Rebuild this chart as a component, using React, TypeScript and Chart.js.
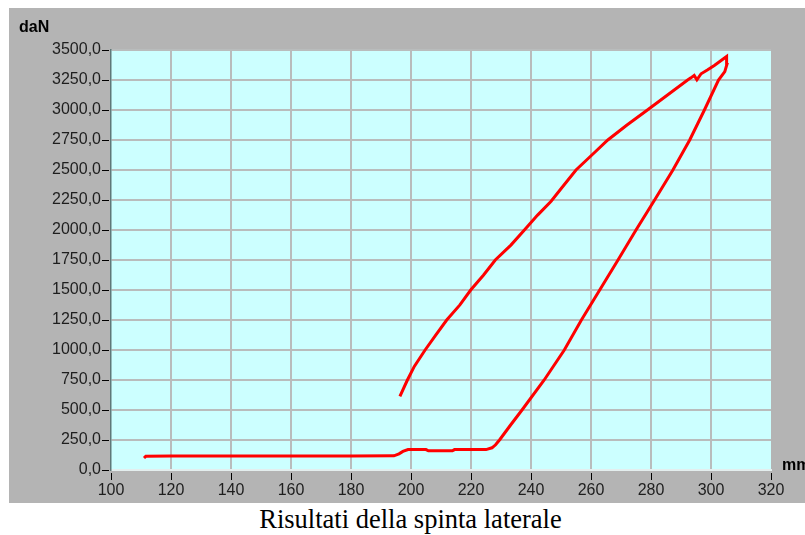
import React, { useEffect, useRef } from "react";
import { Chart, registerables } from "chart.js";

Chart.register(...registerables);

// Displacement (mm) and lateral force (daN) in path order
const displacementMm: number[] = [
  111.0, 111.6, 120, 140, 160, 180, 194.3, 196.0, 197.3, 199.0, 205.0, 205.8, 213.8, 214.5, 225.0, 227.0, 228.2, 229.5,
  233.2, 237.0, 244.4, 251.1, 256.8, 262.9, 269.0, 275.0, 281.2, 287.3, 292.9, 297.8, 302.5, 304.6, 305.3, 305.2,
  301.1, 298.9, 296.7, 295.3, 294.4, 293.3, 292.2, 285.5, 278.8, 272.0, 265.6, 260.3, 255.0, 250.2, 246.7,
  242.2, 237.8, 233.3, 228.1, 224.2, 219.9, 216.3, 211.9, 208.3, 204.7, 201.1, 198.8, 196.3,
];
const forceDaN: number[] = [
  100, 114, 116, 116, 116, 116, 118, 135, 155, 170, 170, 160, 160, 170, 170, 185, 210, 250,
  375, 500, 750, 1000, 1250, 1500, 1750, 2000, 2250, 2500, 2750, 3000, 3250, 3320, 3380, 3446,
  3371, 3335, 3302, 3252, 3288, 3268, 3250, 3125, 3000, 2875, 2750, 2625, 2500, 2350, 2240,
  2124, 2000, 1874, 1750, 1625, 1500, 1376, 1250, 1126, 1000, 863, 750, 614,
];

const xMin = 100;
const xMax = 320;
const xStep = 20;
const yMin = 0;
const yMax = 3500;
const yStep = 250;
const yUnit = "daN";
const xUnit = "mm";
const caption = "Risultati della spinta laterale";

const PANEL = "#b4b4b4";
const PLOT_BG = "#ccffff";
const GRID = "#b9bcbc";
const TEXT = "#1e1e1e";

const fmtY = (v: number) => v.toFixed(1).replace(".", ",");

export default function App() {
  const ref = useRef<HTMLCanvasElement | null>(null);

  useEffect(() => {
    if (!ref.current) return;
    const points = displacementMm.map((x, i) => ({ x, y: forceDaN[i] }));

    const decor = {
      id: "decor",
      beforeDraw(chart: any) {
        const { ctx, chartArea: a } = chart;
        ctx.save();
        ctx.fillStyle = PANEL;
        ctx.fillRect(0, 0, chart.width, chart.height);
        ctx.fillStyle = PLOT_BG;
        ctx.fillRect(a.left, a.top, a.right - a.left, a.bottom - a.top);
        ctx.restore();
      },
      afterDraw(chart: any) {
        const { ctx, chartArea: a, scales } = chart;
        ctx.save();
        ctx.strokeStyle = "#000";
        ctx.lineWidth = 1;
        scales.y.ticks.forEach((t: any) => {
          const py = Math.round(scales.y.getPixelForValue(t.value)) + 0.5;
          ctx.beginPath();
          ctx.moveTo(a.left - 9, py);
          ctx.lineTo(a.left - 2, py);
          ctx.stroke();
        });
        scales.x.ticks.forEach((t: any) => {
          const px = Math.round(scales.x.getPixelForValue(t.value)) + 0.5;
          ctx.beginPath();
          ctx.moveTo(px, a.bottom + 3);
          ctx.lineTo(px, a.bottom + 10);
          ctx.stroke();
        });
        ctx.fillStyle = "#000";
        ctx.font = "bold 16px 'Liberation Sans', Arial, sans-serif";
        ctx.textBaseline = "middle";
        ctx.textAlign = "left";
        ctx.fillText(yUnit, 10, 20);
        ctx.fillText(xUnit, a.right + 11, a.bottom - 4);
        ctx.restore();
      },
    };

    const chart = new Chart(ref.current, {
      type: "line",
      data: {
        datasets: [
          {
            data: points,
            borderColor: "#ff0000",
            borderWidth: 3,
            pointRadius: 0,
            tension: 0,
            fill: false,
          },
        ],
      },
      options: {
        animation: false,
        responsive: false,
        devicePixelRatio: 1,
        layout: { padding: { left: 0, top: 42, right: 34, bottom: 0 } },
        plugins: {
          legend: { display: false },
          tooltip: { enabled: false },
          title: { display: false },
        },
        scales: {
          x: {
            type: "linear",
            min: xMin,
            max: xMax,
            afterFit: (s: any) => {
              s.height = 33;
            },
            ticks: {
              stepSize: xStep,
              padding: 11,
              color: TEXT,
              font: { family: "'Liberation Sans', Arial, sans-serif", size: 16 },
              maxRotation: 0,
              autoSkip: false,
            },
            grid: {
              drawTicks: false,
              lineWidth: 2,
              color: (c: any) =>
                c.tick && (c.tick.value === xMin || c.tick.value === xMax) ? "rgba(0,0,0,0)" : GRID,
            },
            border: { display: true, color: "#e4eeee", width: 2 },
          },
          y: {
            type: "linear",
            min: yMin,
            max: yMax,
            afterFit: (s: any) => {
              s.width = 102;
            },
            ticks: {
              stepSize: yStep,
              padding: 10,
              color: TEXT,
              font: { family: "'Liberation Sans', Arial, sans-serif", size: 16 },
              callback: (v: any) => fmtY(Number(v)),
              autoSkip: false,
            },
            grid: {
              drawTicks: false,
              lineWidth: 2,
              color: (c: any) => (c.tick && c.tick.value === yMin ? "rgba(0,0,0,0)" : GRID),
            },
            border: { display: true, color: "#5f7878", width: 1.5 },
          },
        },
      },
      plugins: [decor],
    });
    return () => chart.destroy();
  }, []);

  return (
    <div style={{ position: "absolute", left: 0, top: 0, width: 805, height: 535, background: "#fff", overflow: "hidden" }}>
      <canvas
        ref={ref}
        width={796}
        height={495}
        style={{ position: "absolute", left: 9, top: 8, width: 796, height: 495, display: "block" }}
      />
      <div
        style={{
          position: "absolute",
          left: 0,
          top: 504,
          width: 821,
          textAlign: "center",
          fontFamily: "'Liberation Serif', 'Times New Roman', serif",
          fontSize: 26.5,
          lineHeight: "30px",
          color: "#000",
          whiteSpace: "nowrap",
        }}
      >
        {caption}
      </div>
    </div>
  );
}
